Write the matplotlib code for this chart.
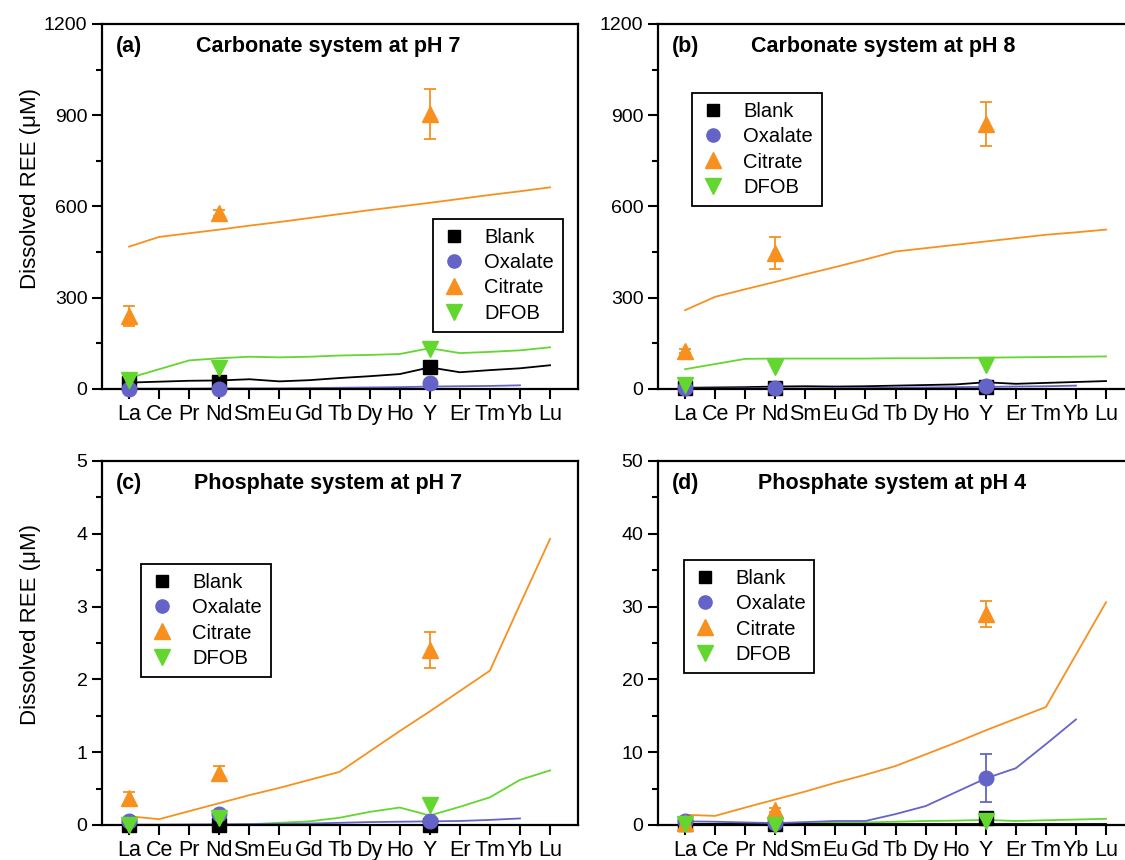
import matplotlib
matplotlib.use("Agg")
import matplotlib.pyplot as plt
from matplotlib.lines import Line2D
from matplotlib.ticker import MultipleLocator

plt.rcParams['font.family'] = ['Liberation Sans', 'DejaVu Sans']

elements = ['La', 'Ce', 'Pr', 'Nd', 'Sm', 'Eu', 'Gd', 'Tb', 'Dy', 'Ho', 'Y', 'Er', 'Tm', 'Yb', 'Lu']
marker_elements = ['La', 'Nd', 'Y']
series_names = ['Blank', 'Oxalate', 'Citrate', 'DFOB']

# ---- Panel (a): Carbonate pH 7 ----
a_blank_line = [21, 24, 27, 28, 32, 25, 29, 36, 42, 49, 71, 55, 62, 68, 78]
a_oxalate_line = [1, 1, 1, 2, 2, 2, 3, 4, 5, 6, 8, 9, 10, 12]
a_citrate_line = [468, 500, 512, 524, 537, 549, 562, 575, 588, 600, 612, 625, 638, 650, 663]
a_dfob_line = [36, 65, 94, 101, 106, 104, 106, 110, 112, 115, 134, 118, 122, 127, 137]
a_blank = [20, 22, 72]
a_oxalate = [0, 1, 20]
a_citrate = [240, 578, 905]
a_citrate_err = [33, 10, 82]
a_dfob = [30, 68, 130]

# ---- Panel (b): Carbonate pH 8 ----
b_blank_line = [4, 5, 6, 8, 9, 8, 9, 11, 13, 15, 22, 17, 20, 23, 26]
b_oxalate_line = [1, 1, 2, 2, 2, 3, 3, 4, 5, 6, 7, 8, 9, 11]
b_citrate_line = [259, 303, 328, 352, 377, 401, 426, 452, 463, 474, 485, 496, 507, 515, 524]
b_dfob_line = [65, 82, 99, 100, 100, 100, 100, 101, 101, 102, 103, 104, 105, 106, 107]
b_blank = [3, 4, 8]
b_oxalate = [2, 2, 9]
b_citrate = [125, 448, 870]
b_citrate_err = [8, 52, 72]
b_dfob = [12, 73, 80]

# ---- Panel (c): Phosphate pH 7 ----
c_blank_line = [0, 0, 0, 0, 0, 0, 0, 0, 0, 0, 0, 0, 0, 0, 0]
c_oxalate_line = [0.005, 0.005, 0.008, 0.01, 0.012, 0.015, 0.02, 0.03, 0.04, 0.045, 0.05, 0.055, 0.07, 0.09]
c_citrate_line = [0.12, 0.08, 0.19, 0.30, 0.41, 0.51, 0.62, 0.73, 1.01, 1.29, 1.56, 1.84, 2.12, 3.03, 3.93]
c_dfob_line = [0.0, 0.0, 0.0, 0.0, 0.01, 0.03, 0.05, 0.10, 0.18, 0.24, 0.13, 0.25, 0.38, 0.62, 0.75]
c_blank = [0.0, 0.0, 0.0]
c_oxalate = [0.06, 0.15, 0.05]
c_citrate = [0.37, 0.72, 2.40]
c_citrate_err = [0.09, 0.09, 0.25]
c_dfob = [0.0, 0.10, 0.27]

# ---- Panel (d): Phosphate pH 4 ----
d_blank_line = [0.1, 0.1, 0.1, 0.1, 0.1, 0.1, 0.1, 0.1, 0.1, 0.1, 0.1, 0.1, 0.1, 0.1, 0.1]
d_oxalate_line = [0.5, 0.45, 0.35, 0.25, 0.4, 0.55, 0.55, 1.5, 2.6, 4.5, 6.4, 7.8, 11.1, 14.5]
d_oxalate_err = [0.2, 0.1, 3.3]
d_citrate_line = [1.4, 1.25, 2.4, 3.5, 4.6, 5.8, 6.9, 8.1, 9.7, 11.3, 13.0, 14.6, 16.2, 23.4, 30.6]
d_dfob_line = [0.1, 0.15, 0.2, 0.2, 0.25, 0.3, 0.35, 0.45, 0.55, 0.6, 0.7, 0.55, 0.65, 0.75, 0.85]
d_blank = [0.2, 0.1, 0.9]
d_oxalate = [0.6, 0.3, 6.5]
d_citrate = [0.3, 2.1, 29.0]
d_citrate_err = [0.1, 0.3, 1.8]
d_dfob = [0.1, 0.0, 0.5]

colors = {'Blank': '#000000', 'Oxalate': '#6464C8', 'Citrate': '#F7901E', 'DFOB': '#63D62F'}
markers = {'Blank': 's', 'Oxalate': 'o', 'Citrate': '^', 'DFOB': 'v'}
msizes = {'Blank': 10, 'Oxalate': 10.5, 'Citrate': 12, 'DFOB': 12}

panels = [
    dict(pos=[0.0907, 0.5477, 0.4231, 0.4244], label='(a)', title='Carbonate system at pH 7',
         ylim=(0, 1200), major=300, minor=150, ylabel=True,
         lines=[a_citrate_line, a_dfob_line, a_blank_line, a_oxalate_line],
         pts=[a_blank, a_oxalate, a_citrate, a_dfob], errs=[None, None, a_citrate_err, None],
         leg=(0.695, 0.466), title_x=0.197),
    dict(pos=[0.5849, 0.5477, 0.4231, 0.4244], label='(b)', title='Carbonate system at pH 8',
         ylim=(0, 1200), major=300, minor=150, ylabel=False,
         lines=[b_citrate_line, b_dfob_line, b_blank_line, b_oxalate_line],
         pts=[b_blank, b_oxalate, b_citrate, b_dfob], errs=[None, None, b_citrate_err, None],
         leg=(0.071, 0.811), title_x=0.195),
    dict(pos=[0.0907, 0.0407, 0.4231, 0.4233], label='(c)', title='Phosphate system at pH 7',
         ylim=(0, 5), major=1, minor=0.5, ylabel=True,
         lines=[c_citrate_line, c_dfob_line, c_blank_line, c_oxalate_line],
         pts=[c_blank, c_oxalate, c_citrate, c_dfob], errs=[None, None, c_citrate_err, None],
         leg=(0.082, 0.717), title_x=0.193),
    dict(pos=[0.5849, 0.0407, 0.4231, 0.4233], label='(d)', title='Phosphate system at pH 4',
         ylim=(0, 50), major=10, minor=5, ylabel=False,
         lines=[d_citrate_line, d_dfob_line, d_blank_line, d_oxalate_line],
         pts=[d_blank, d_oxalate, d_citrate, d_dfob], errs=[None, d_oxalate_err, d_citrate_err, None],
         leg=(0.055, 0.728), title_x=0.21),
]

line_order = ['Citrate', 'DFOB', 'Blank', 'Oxalate']

fig = plt.figure(figsize=(11.25, 8.6), dpi=100)
xpos = {e: i for i, e in enumerate(elements)}
mx = [xpos[e] for e in marker_elements]

for p in panels:
    ax = fig.add_axes(p['pos'])
    for name, vals in zip(line_order, p['lines']):
        ax.plot(range(len(vals)), vals, color=colors[name], lw=1.3, zorder=2)
    for name, vals, err in zip(series_names, p['pts'], p['errs']):
        if err is not None:
            ax.errorbar(mx, vals, yerr=err, fmt='none', ecolor=colors[name], elinewidth=1.3,
                        capsize=4, capthick=1.3, zorder=3, clip_on=False)
        ax.plot(mx, vals, linestyle='none', marker=markers[name], ms=msizes[name],
                color=colors[name], mec=colors[name], zorder=4, clip_on=False)
    ax.set_xlim(-0.9, 14.93)
    ax.set_ylim(*p['ylim'])
    ax.set_xticks(range(len(elements)))
    ax.set_xticklabels(elements)
    ax.yaxis.set_major_locator(MultipleLocator(p['major']))
    ax.yaxis.set_minor_locator(MultipleLocator(p['minor']))
    ax.tick_params(axis='both', which='major', direction='out', length=7, width=1.5)
    ax.tick_params(axis='y', which='major', labelsize=14)
    ax.tick_params(axis='x', which='major', labelsize=15.5, pad=4)
    ax.tick_params(axis='y', which='minor', direction='out', length=4, width=1.5)
    for s in ax.spines.values():
        s.set_linewidth(1.6)
    if p['ylabel']:
        ax.set_ylabel('Dissolved REE (\u03bcM)', fontsize=16)
        ax.yaxis.set_label_coords(-0.128, 0.55)
    ax.text(0.03, 0.937, p['label'], transform=ax.transAxes, fontsize=15.5, fontweight='bold',
            va='center', ha='left')
    ax.text(p['title_x'], 0.937, p['title'], transform=ax.transAxes, fontsize=15.5,
            fontweight='bold', va='center', ha='left')
    handles = [Line2D([], [], linestyle='none', marker=markers[n], color=colors[n],
                      ms=msizes[n] - 1) for n in series_names]
    leg = ax.legend(handles, series_names, loc='upper left', bbox_to_anchor=p['leg'],
                    fontsize=14.5, frameon=True, fancybox=False, edgecolor='black',
                    framealpha=1, borderpad=0.45, labelspacing=0.31, handlelength=1.2,
                    handletextpad=0.9, borderaxespad=0)
    leg.get_frame().set_linewidth(1.3)

fig.savefig('out.png', dpi=100)
